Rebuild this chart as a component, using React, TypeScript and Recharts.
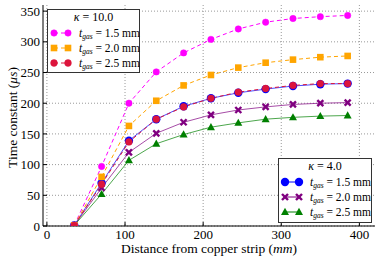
import React from 'react';
import { LineChart, Line, XAxis, YAxis, CartesianGrid } from 'recharts';

const FONT = 'Liberation Serif, DejaVu Serif, serif';

// x positions along the strip (mm)
const distance = [35, 70, 105, 140, 175, 210, 245, 280, 315, 350, 385];

// kappa = 10.0
const k10Gas15 = [1, 97, 200, 251, 282, 304, 321, 332, 338, 341, 343];
const k10Gas20 = [1, 80, 163, 204, 229, 246, 258, 266, 271, 275, 277];
const k10Gas25 = [1, 68, 137, 174, 194, 208, 218, 224, 229, 232, 232];

// kappa = 4.0
const k4Gas15 = [1, 70, 139, 174, 195, 208, 217, 223, 228, 231, 232];
const k4Gas20 = [1, 62, 120, 151, 169, 181, 189, 194, 198, 200, 201];
const k4Gas25 = [1, 52, 107, 134, 149, 161, 168, 174, 177, 179, 180];

const xTicks = [0, 100, 200, 300, 400];
const yTicks = [0, 50, 100, 150, 200, 250, 300, 350];

const data = distance.map((d, i) => ({
  distance: d,
  k10a: k10Gas15[i],
  k10b: k10Gas20[i],
  k10c: k10Gas25[i],
  k4a: k4Gas15[i],
  k4b: k4Gas20[i],
  k4c: k4Gas25[i],
}));

type MarkerKind = 'magenta' | 'orange' | 'red' | 'blue' | 'purple' | 'green';

function Marker({ kind, cx, cy }: { kind: MarkerKind; cx: number; cy: number }) {
  switch (kind) {
    case 'magenta':
      return <circle cx={cx} cy={cy} r={3.2} fill="#ff00ff" stroke="#ff00ff" strokeWidth={0.5} />;
    case 'orange':
      return <rect x={cx - 3.3} y={cy - 3.3} width={6.6} height={6.6} fill="#ffa500" />;
    case 'red':
      return <circle cx={cx} cy={cy} r={3.4} fill="#dc143c" stroke="#dc143c" strokeWidth={0.5} />;
    case 'blue':
      return <circle cx={cx} cy={cy} r={4.2} fill="#0000ff" />;
    case 'purple':
      return (
        <g stroke="#800080" strokeWidth={2.4} strokeLinecap="butt">
          <line x1={cx - 3} y1={cy - 3} x2={cx + 3} y2={cy + 3} />
          <line x1={cx - 3} y1={cy + 3} x2={cx + 3} y2={cy - 3} />
        </g>
      );
    case 'green':
      return (
        <polygon
          points={`${cx},${cy - 4.2} ${cx - 4},${cy + 3} ${cx + 4},${cy + 3}`}
          fill="#008000"
        />
      );
  }
  return null;
}

function dotFor(kind: MarkerKind) {
  return (props: any) => {
    const { cx, cy, index } = props;
    if (cx == null || cy == null) return <g key={index} />;
    return <Marker key={`${kind}-${index}`} kind={kind} cx={cx} cy={cy} />;
  };
}

const Gas = ({ v }: { v: string }) => (
  <>
    <tspan fontStyle="italic">t</tspan>
    <tspan fontStyle="italic" fontSize={7.5} dy={2}>gas</tspan>
    <tspan dy={-2}>{` = ${v} mm`}</tspan>
  </>
);

interface LegendEntry {
  kind: MarkerKind;
  color: string;
  dash?: string;
  label: string;
}

function LegendBox({
  left,
  top,
  width,
  height,
  title,
  entries,
}: {
  left: number;
  top: number;
  width: number;
  height: number;
  title: string;
  entries: LegendEntry[];
}) {
  return (
    <svg
      width={width}
      height={height}
      style={{ position: 'absolute', left, top, overflow: 'visible', fontFamily: FONT }}
    >
      <rect x={0.5} y={0.5} width={width - 1} height={height - 1} fill="#fff" stroke="#333" strokeWidth={1} />
      <text x={width / 2} y={12} textAnchor="middle" style={{ fontFamily: FONT, fontSize: 12 }}>
        <tspan fontStyle="italic">κ</tspan>
        {` = ${title}`}
      </text>
      {entries.map((e, i) => {
        const y = 24 + i * 15;
        return (
          <g key={e.label}>
            <line x1={7} y1={y} x2={21} y2={y} stroke={e.color} strokeWidth={1} strokeDasharray={e.dash} />
            <Marker kind={e.kind} cx={7} cy={y} />
            <Marker kind={e.kind} cx={21} cy={y} />
            <text x={32} y={y + 4} style={{ fontFamily: FONT, fontSize: 11.5 }}>
              <Gas v={e.label} />
            </text>
          </g>
        );
      })}
    </svg>
  );
}

const k10Legend: LegendEntry[] = [
  { kind: 'magenta', color: '#ff00ff', dash: '4 3', label: '1.5' },
  { kind: 'orange', color: '#ffa500', dash: '4 3', label: '2.0' },
  { kind: 'red', color: '#dc143c', dash: '4 3', label: '2.5' },
];

const k4Legend: LegendEntry[] = [
  { kind: 'blue', color: '#0000ff', label: '1.5' },
  { kind: 'purple', color: '#800080', label: '2.0' },
  { kind: 'green', color: '#008000', label: '2.5' },
];

const YLabel = (props: any) => {
  const vb = props.viewBox || { x: 0, y: 0, width: 0, height: 0 };
  const cy = vb.y + vb.height / 2 + 2;
  const x = 12;
  return (
    <text
      x={x}
      y={cy}
      transform={`rotate(-90, ${x}, ${cy})`}
      textAnchor="middle"
      dominantBaseline="central"
      style={{ fontFamily: FONT, fontSize: 13.5 }}
      fill="#000"
    >
      Time constant (<tspan fontStyle="italic">μs</tspan>)
    </text>
  );
};

const XLabel = (props: any) => {
  const vb = props.viewBox || { x: 0, y: 0, width: 0, height: 0 };
  return (
    <text
      x={vb.x + vb.width / 2}
      y={vb.y + 27}
      textAnchor="middle"
      style={{ fontFamily: FONT, fontSize: 13.5 }}
      fill="#000"
    >
      Distance from copper strip (<tspan fontStyle="italic">mm</tspan>)
    </text>
  );
};

const tickStyle = { fill: '#000', fontSize: 13, fontFamily: FONT };

export default function App() {
  return (
    <div
      style={{
        position: 'absolute',
        left: 0,
        top: 0,
        width: 381,
        height: 261,
        background: '#fff',
        fontFamily: FONT,
      }}
    >
      <LineChart
        width={381}
        height={261}
        data={data}
        margin={{ top: 5, right: 6, bottom: 0, left: 0 }}
        style={{ fontFamily: FONT }}
      >
        <CartesianGrid
          stroke="#999"
          strokeDasharray="1 2"
          horizontalValues={yTicks}
          verticalValues={xTicks}
        />
        <XAxis
          dataKey="distance"
          type="number"
          domain={[-5, 420]}
          ticks={xTicks}
          height={35}
          allowDataOverflow
          stroke="#000"
          tickSize={-4}
          tickMargin={8}
          tick={tickStyle}
          label={<XLabel />}
        />
        <XAxis
          xAxisId="top"
          orientation="top"
          dataKey="distance"
          type="number"
          domain={[-5, 420]}
          ticks={xTicks}
          height={0}
          allowDataOverflow
          stroke="#000"
          tickSize={-4}
          tick={false}
        />
        <YAxis
          type="number"
          domain={[0, 360]}
          ticks={yTicks}
          width={43}
          allowDataOverflow
          stroke="#000"
          tickSize={-4}
          tickMargin={7}
          tick={tickStyle}
          label={<YLabel />}
        />
        <YAxis
          yAxisId="right"
          orientation="right"
          type="number"
          domain={[0, 360]}
          ticks={yTicks}
          width={0}
          allowDataOverflow
          stroke="#000"
          tickSize={-4}
          tick={false}
        />
        <Line dataKey="k4a" stroke="#0000ff" strokeOpacity={0.7} strokeWidth={1} dot={dotFor('blue')} isAnimationActive={false} />
        <Line dataKey="k4b" stroke="#800080" strokeOpacity={0.7} strokeWidth={1} dot={dotFor('purple')} isAnimationActive={false} />
        <Line dataKey="k4c" stroke="#008000" strokeOpacity={0.7} strokeWidth={1} dot={dotFor('green')} isAnimationActive={false} />
        <Line dataKey="k10a" stroke="#ff00ff" strokeWidth={1} strokeDasharray="4 3" dot={dotFor('magenta')} isAnimationActive={false} />
        <Line dataKey="k10b" stroke="#ffa500" strokeWidth={1} strokeDasharray="4 3" dot={dotFor('orange')} isAnimationActive={false} />
        <Line dataKey="k10c" stroke="#dc143c" strokeWidth={1} strokeDasharray="4 3" dot={dotFor('red')} isAnimationActive={false} />
      </LineChart>
      <LegendBox left={47} top={9} width={93} height={64} title="10.0" entries={k10Legend} />
      <LegendBox left={278} top={158} width={94} height={65} title="4.0" entries={k4Legend} />
    </div>
  );
}
